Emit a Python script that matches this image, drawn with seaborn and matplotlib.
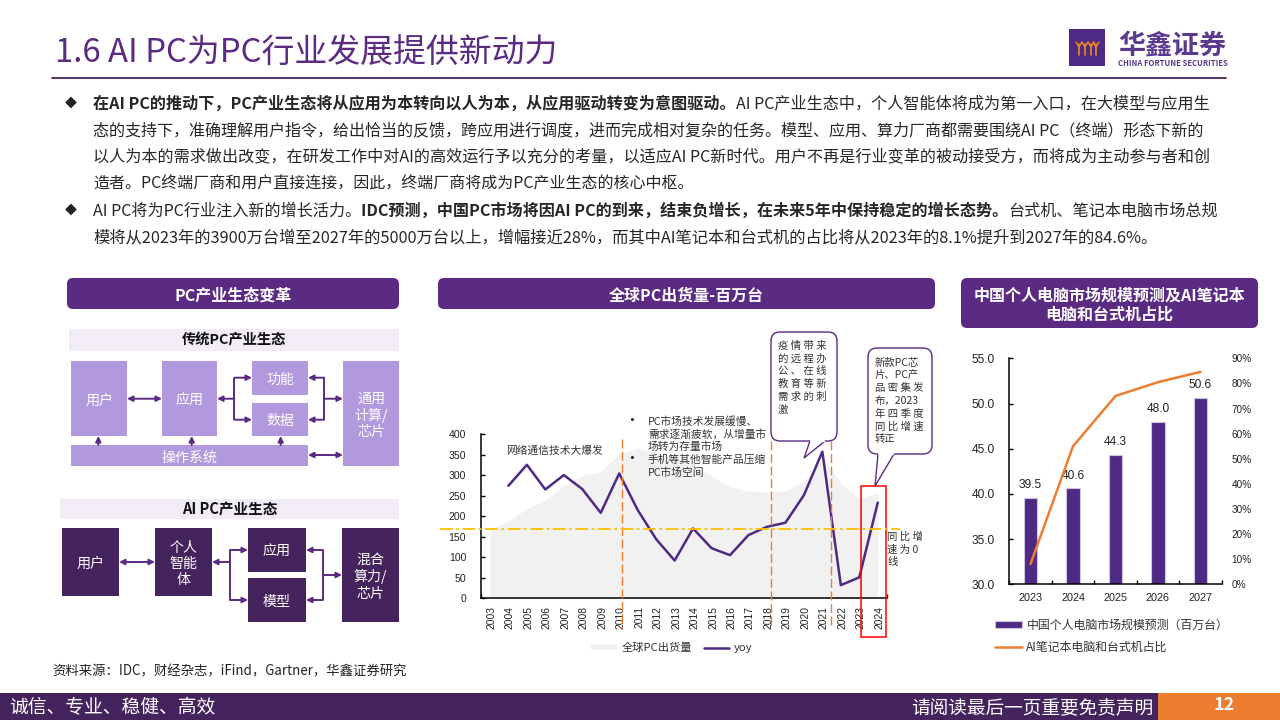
import matplotlib
matplotlib.use('Agg')
import matplotlib.pyplot as plt
import seaborn as sns
from matplotlib.patches import FancyBboxPatch, Rectangle, Polygon
from matplotlib.ticker import FixedLocator
from matplotlib.transforms import ScaledTranslation

# Left chart data
years = [str(y) for y in range(2003, 2025)]
shipments = [170, 187, 219, 239, 274, 299, 308, 353, 365, 355, 342, 329, 298, 271, 261, 260, 261, 284, 340, 280, 243, 257]
yoy_years = years[1:]
yoy_on_axis = [274, 325, 265, 300, 266, 208, 304, 215, 144, 92, 170, 122, 105, 154, 174, 184, 251, 357, 32, 51, 233]
left_ticks = [0, 50, 100, 150, 200, 250, 300, 350, 400]

# Right chart data
fc_years = ['2023', '2024', '2025', '2026', '2027']
market_size = [39.5, 40.6, 44.3, 48.0, 50.6]
ai_share = [8.1, 55, 75, 80.5, 84.6]
size_ticks = [30, 35, 40, 45, 50, 55]
share_ticks = [0, 10, 20, 30, 40, 50, 60, 70, 80, 90]

PURPLE = '#5B2A82'
DARK = '#45245E'
LIGHT = '#B299DD'
BAND = '#F2ECF7'
ORANGE = '#ED7D31'
GRAY_TEXT = '#333333'

sns.set_theme(style='white')
plt.rcParams['font.family'] = ['Noto Sans CJK SC', 'DejaVu Sans']
LATIN = ['Liberation Sans', 'Noto Sans CJK SC']

fig = plt.figure(figsize=(12.8, 7.2), dpi=100)


def px_axes(x0, y0, x1, y1):
    return fig.add_axes([x0 / 1280, 1 - y1 / 720, (x1 - x0) / 1280, (y1 - y0) / 720])


# Shipments chart
ax1 = px_axes(480.7, 434, 887, 598.3)
ax1.fill_between(years, shipments, 0, color='#F1F1F1', lw=0, label='全球PC出货量')
sns.lineplot(x=yoy_years, y=yoy_on_axis, ax=ax1, color='#4E2A84', lw=1.8, label='yoy', legend=False)
ax1.set_xlim(-0.5, 21.5)
ax1.set_ylim(0, 400)
ax1.set_yticks(left_ticks)
ax1.xaxis.set_minor_locator(FixedLocator([i + 0.5 for i in range(-1, 22)]))
ax1.tick_params(axis='x', which='major', length=0, pad=5.5, labelsize=7.4, labelrotation=90)
ax1.tick_params(axis='x', which='minor', length=3, direction='in', color='black', width=1, bottom=True)
ax1.tick_params(axis='y', length=3, direction='in', color='black', width=1, left=True, labelsize=7.6, pad=10.5)
shift = ScaledTranslation(1.5 / 100, 0, fig.dpi_scale_trans)
for lab in ax1.get_xticklabels():
    lab.set_transform(lab.get_transform() + shift)
for lab in ax1.get_xticklabels() + ax1.get_yticklabels():
    lab.set_family(LATIN)
    lab.set_color('#222222')
sns.despine(ax=ax1)
for s in ['left', 'bottom']:
    ax1.spines[s].set_color('black')
    ax1.spines[s].set_linewidth(1.1)
ax1.patch.set_alpha(0)
h, l = ax1.get_legend_handles_labels()
fig.legend(h, l, loc='center', bbox_to_anchor=(672 / 1280, 1 - 648 / 720), ncol=2, frameon=False,
           fontsize=8.1, handlelength=2.3, handleheight=0.5, columnspacing=1.0, handletextpad=0.4,
           labelcolor='#333333')

# Market size chart
ax2 = px_axes(1009.3, 358.3, 1221.7, 584.3)
sns.barplot(x=fc_years, y=market_size, ax=ax2, color='#4E2A84', width=0.32, saturation=1,
            edgecolor='#CFC3E2', linewidth=0.8, label='中国个人电脑市场规模预测（百万台）')
h2, l2 = ax2.get_legend_handles_labels()
ax2.get_legend().remove()
ax2.set_ylim(30, 55)
ax2.set_yticks(size_ticks)
ax2.set_yticklabels([f'{v:.1f}' for v in size_ticks])
ax2.bar_label(ax2.containers[0], fmt='%.1f', padding=5, fontsize=8.6, color='#222222', family=LATIN)
ax2.xaxis.set_minor_locator(FixedLocator([i + 0.5 for i in range(-1, 5)]))
ax2.tick_params(axis='x', which='major', length=0, pad=6, labelsize=7.8)
ax2.tick_params(axis='x', which='minor', length=3, direction='in', color='black', width=1, bottom=True)
ax2.tick_params(axis='y', length=3, direction='in', color='black', width=1, left=True, labelsize=8.6, pad=10.5)
sns.despine(ax=ax2)
for s in ['left', 'bottom']:
    ax2.spines[s].set_color('black')
    ax2.spines[s].set_linewidth(1.1)
ax2.patch.set_alpha(0)
ax2b = ax2.twinx()
sns.lineplot(x=fc_years, y=ai_share, ax=ax2b, color=ORANGE, lw=1.8, label='AI笔记本电脑和台式机占比', legend=False)
ax2b.set_ylim(0, 90)
ax2b.set_xlim(-0.5, 4.5)
ax2b.set_yticks(share_ticks)
ax2b.set_yticklabels([f'{v}%' for v in share_ticks])
ax2b.tick_params(axis='y', length=0, labelsize=7.2, pad=7)
ax2b.set_ylabel('')
ax2b.grid(False)
ax2.grid(False)
sns.despine(ax=ax2b, right=True, left=True, bottom=True)
for lab in ax2.get_xticklabels() + ax2.get_yticklabels() + ax2b.get_yticklabels():
    lab.set_family(LATIN)
    lab.set_color('#222222')
h3, l3 = ax2b.get_legend_handles_labels()
fig.legend(h2 + h3, l2 + l3, loc='upper left', bbox_to_anchor=(984 / 1280, 1 - 608 / 720), ncol=1, frameon=False,
           fontsize=8.6, handlelength=2.25, handleheight=0.5, labelspacing=0.75, handletextpad=0.4, labelcolor='#333333')

# Overlay in pixel coordinates for the page furniture
ov = fig.add_axes([0, 0, 1, 1], zorder=5)
ov.set_xlim(0, 1280)
ov.set_ylim(720, 0)
ov.axis('off')


def txt(x, y, s, size=11, color=GRAY_TEXT, ha='center', va='center', weight='normal', **kw):
    # the CJK face sits a little high when centred, so nudge it down
    return ov.text(x, y + size * 0.13, s, fontsize=size * 0.72, color=color, ha=ha, va=va, fontweight=weight, **kw)


def box(x0, y0, x1, y1, color, label=None, tc='white', size=14):
    ov.add_patch(Rectangle((x0, y0), x1 - x0, y1 - y0, fc=color, ec='none'))
    if label:
        txt((x0 + x1) / 2, (y0 + y1) / 2, label, size=size, color=tc, linespacing=1.2)


def pill(x0, y0, x1, y1, label, size=16):
    ov.add_patch(FancyBboxPatch((x0 + 6, y0 + 6), x1 - x0 - 12, y1 - y0 - 12, boxstyle='round,pad=6,rounding_size=6',
                                fc=PURPLE, ec='none'))
    txt((x0 + x1) / 2, (y0 + y1) / 2, label, size=size, color='white', weight='bold', linespacing=1.2)


def arrow(x0, y0, x1, y1, style='-|>'):
    ov.annotate('', xy=(x1, y1), xytext=(x0, y0),
                arrowprops=dict(arrowstyle=style, color=PURPLE, lw=1.4, mutation_scale=8, shrinkA=0, shrinkB=0))


def seg(xs, ys):
    ov.plot(xs, ys, color=PURPLE, lw=1.4, solid_capstyle='butt')


def fit_line(x0, x1, y, runs, size=15, color='#262626'):
    # runs are (text, bold); the font size is scaled so the line ends where the reference does
    r = fig.canvas.get_renderer()
    items = [txt(x0, y, s, size=size, ha='left', weight='bold' if b else 'normal', color=color) for s, b in runs]
    total = sum(t.get_window_extent(r).width for t in items)
    scale = (x1 - x0) / total
    x = x0
    for t in items:
        t.set_fontsize(t.get_fontsize() * scale)
        t.set_x(x)
        x += t.get_window_extent(r).width


# Title and logo
fit_line(55, 558, 50, [('1.6 AI PC为PC行业发展提供新动力', False)], size=32, color=PURPLE)
ov.plot([52, 1226], [78, 78], color=DARK, lw=1.3)
ov.add_patch(Rectangle((1069, 29), 36, 37, fc='#4E2A84', ec='none'))
for fx in [1079, 1085, 1091, 1096]:
    ov.plot([fx, fx], [44, 55], color='#F08A24', lw=1.2)
    ov.plot([fx - 3, fx, fx + 3], [42, 47, 42], color='#F08A24', lw=1)
txt(1172.5, 42, '华鑫证券', size=27, color='#5A3A8E', weight='bold')
txt(1172.5, 62, 'CHINA FORTUNE SECURITIES', size=7.7, color='#5A3A8E', weight='bold')

# Body text
txt(71, 102, '◆', size=12, color='#222222', family=['Noto Sans CJK SC', 'DejaVu Sans'])
txt(71, 209, '◆', size=12, color='#222222', family=['Noto Sans CJK SC', 'DejaVu Sans'])
fit_line(93, 1208, 102, [('在AI PC的推动下，PC产业生态将从应用为本转向以人为本，从应用驱动转变为意图驱动。', True),
                         ('AI PC产业生态中，个人智能体将成为第一入口，在大模型与应用生', False)])
fit_line(93, 1208, 129, [('态的支持下，准确理解用户指令，给出恰当的反馈，跨应用进行调度，进而完成相对复杂的任务。模型、应用、算力厂商都需要围绕AI PC（终端）形态下新的', False)])
fit_line(93, 1208, 155, [('以人为本的需求做出改变，在研发工作中对AI的高效运行予以充分的考量，以适应AI PC新时代。用户不再是行业变革的被动接受方，而将成为主动参与者和创', False)])
fit_line(93, 693, 182, [('造者。PC终端厂商和用户直接连接，因此，终端厂商将成为PC产业生态的核心中枢。', False)])
fit_line(93, 1218, 209, [('AI PC将为PC行业注入新的增长活力。', False),
                         ('IDC预测，中国PC市场将因AI PC的到来，结束负增长，在未来5年中保持稳定的增长态势。', True),
                         ('台式机、笔记本电脑市场总规', False)])
fit_line(93, 1160, 236, [('模将从2023年的3900万台增至2027年的5000万台以上，增幅接近28%，而其中AI笔记本和台式机的占比将从2023年的8.1%提升到2027年的84.6%。', False)])

# Section headers
pill(67, 278, 399, 309, 'PC产业生态变革')
pill(438, 278, 935, 309, '全球PC出货量-百万台')
pill(961, 278, 1258, 328, '中国个人电脑市场规模预测及AI笔记本\n电脑和台式机占比')

# Traditional PC diagram
box(69, 329, 399, 351, BAND)
txt(234, 339, '传统PC产业生态', size=14.3, color='#111111', weight='bold')
box(71, 361, 127, 436, LIGHT, '用户')
box(162, 361, 217, 436, LIGHT, '应用')
box(252, 361, 308, 395, LIGHT, '功能')
box(252, 403, 308, 436, LIGHT, '数据')
box(343, 361, 399, 466, LIGHT, '通用\n计算/\n芯片')
box(71, 445, 308, 466, LIGHT, '操作系统')
arrow(127, 398.7, 162, 398.7, '<|-|>')
arrow(234.3, 398.7, 217, 398.7)
seg([234.3, 234.3], [377.7, 419.7])
arrow(234.3, 377.7, 252, 377.7)
arrow(234.3, 419.7, 252, 419.7)
seg([324, 324], [377.7, 419.7])
arrow(324, 377.7, 308, 377.7)
arrow(324, 419.7, 308, 419.7)
arrow(324, 398.7, 343, 398.7)
for ux in [98.3, 191.7, 280.7]:
    arrow(ux, 445, ux, 436)
arrow(308, 455, 343, 455, '<|-|>')

# AI PC diagram
box(60, 499, 399, 519, BAND)
txt(230, 508, 'AI PC产业生态', size=14.6, color='#111111', weight='bold')
box(62, 528, 119, 596, DARK, '用户')
box(155, 528, 212, 596, DARK, '个人\n智能\n体')
box(248, 528, 306, 572, DARK, '应用')
box(248, 578, 306, 622, DARK, '模型')
box(342, 528, 399, 622, DARK, '混合\n算力/\n芯片')
arrow(119, 562, 155, 562, '<|-|>')
arrow(230, 562, 212, 562)
seg([230, 230], [550, 600])
arrow(230, 550, 248, 550)
arrow(230, 600, 248, 600)
seg([323, 323], [550, 600])
arrow(323, 550, 306, 550)
arrow(323, 600, 306, 600)
arrow(323, 575, 342, 575)

fit_line(52, 406, 670, [('资料来源：IDC，财经杂志，iFind，Gartner，华鑫证券研究', False)], size=13, color='#222222')

# Annotations on the shipments chart
for vx, y0, y1 in [(622.3, 439, 628), (771.3, 441, 628), (831.3, 441, 625)]:
    ov.plot([vx, vx], [y0, y1], color=ORANGE, lw=1, ls=(0, (6.5, 2.5)))
ov.plot([440, 900], [528.7, 528.7], color='#FFC000', lw=1.3, ls=(0, (7, 2, 1.5, 2)))
ov.add_patch(Rectangle((860.7, 486), 25, 151, fc='none', ec='#FF0000', lw=1.1))

txt(506, 449, '网络通信技术大爆发', size=10.7, ha='left')
for by, bt in [(420, 'PC市场技术发展缓慢、'), (433, '需求逐渐疲软，从增量市'), (445, '场转为存量市场'),
               (458, '手机等其他智能产品压缩'), (471, 'PC市场空间')]:
    txt(648, by, bt, size=10.7, ha='left')
txt(632, 419, '•', size=15, color='#111111')
txt(632, 457, '•', size=15, color='#111111')


def callout(x0, y0, x1, y1, tail, lines, first, step, tx):
    ov.add_patch(FancyBboxPatch((x0 + 9, y0 + 9), x1 - x0 - 18, y1 - y0 - 18, boxstyle='round,pad=9,rounding_size=9',
                                fc='white', ec=PURPLE, lw=1, zorder=6))
    ov.add_patch(Polygon(tail, closed=False, fc='white', ec=PURPLE, lw=1, zorder=7))
    ov.plot([tail[0][0] + 0.8, tail[-1][0] - 0.8], [tail[0][1], tail[-1][1]], color='white', lw=1.6, zorder=8)
    for i, line in enumerate(lines):
        ov.text(tx, first + i * step, line, fontsize=10.4 * 0.72, color=GRAY_TEXT, ha='left', va='center', zorder=9)


callout(771, 332, 837, 441, [(810, 441), (804, 458), (825, 441)],
        ['疫 情 带 来', '的 远 程 办', '公 、 在 线', '教 育 等 新', '需 求 的 刺', '激'], 345.5, 12.8, 778)
callout(868, 348, 932, 454, [(878, 454), (875, 486), (894, 454)],
        ['新款PC芯', '片、PC产', '品 密 集 发', '布，2023', '年 四 季 度', '同 比 增 速', '转正'], 362.5, 12.8, 875)
for i, line in enumerate(['同 比 增', '速 为 0', '线']):
    txt(887, 535 + i * 13, line, size=10.4, ha='left')

# Footer
ov.add_patch(Rectangle((0, 693), 1280, 27, fc=DARK, ec='none'))
ov.add_patch(Rectangle((1158, 693), 122, 27, fc=ORANGE, ec='none'))
txt(9, 705, '诚信、专业、稳健、高效', size=18.8, color='white', ha='left')
txt(1153, 705, '请阅读最后一页重要免责声明', size=18.7, color='white', ha='right')
txt(1224, 703, '12', size=18, color='white', weight='bold')

fig.savefig('out.png', dpi=100)
